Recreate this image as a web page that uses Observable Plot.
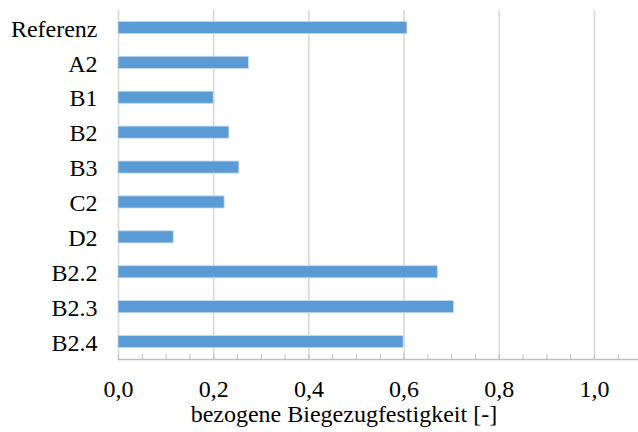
<!DOCTYPE html>
<html><head><meta charset="utf-8">
<script src="https://cdn.jsdelivr.net/npm/d3@7"></script>
<script src="https://cdn.jsdelivr.net/npm/@observablehq/plot@0.6"></script>
<style>body{margin:0;background:#fff}</style>
</head><body><div id="chart"></div>
<script>
const categories = ["Referenz","A2","B1","B2","B3","C2","D2","B2.2","B2.3","B2.4"];
const values = [0.607,0.274,0.200,0.233,0.254,0.223,0.116,0.671,0.705,0.599];
const majorTicks = [0,0.2,0.4,0.6,0.8,1.0];
const minorTicks = [0,0.05,0.1,0.15,0.2,0.25,0.3,0.35,0.4,0.45,0.5,0.55,0.6,0.65,0.7,0.75,0.8,0.85,0.9,0.95,1.0,1.05];
const xTitle = "bezogene Biegezugfestigkeit [-]";
const data = categories.map((c,i)=>({category:c, value: values[i]}));
const chart = Plot.plot({
  width:638, height:432, marginLeft:118, marginRight:1.2, marginTop:10, marginBottom:73,
  style:{fontFamily:"'Liberation Serif', 'Times New Roman', serif", fontSize:"24px", color:"#000", background:"#fff"},
  x:{domain:[0,1.09]},
  y:{domain:categories, padding:0, round:false},
  marks:[
    Plot.gridX(majorTicks,{stroke:"#d9d9d9", strokeOpacity:1, strokeWidth:1.6}),
    Plot.barX(data,{x:"value", y:"category", fill:"#5b9bd5", stroke:"#c5dbf0", strokeWidth:0.8, insetTop:11.4, insetBottom:11.4}),
    Plot.frame({anchor:"bottom", stroke:"#bfbfbf", strokeWidth:1.3}),
    Plot.axisX(minorTicks,{tickSize:5, dy:-5, tickFormat:()=>"", stroke:"#bfbfbf", label:null}),
    Plot.axisX(majorTicks,{tickSize:0, tickPadding:20, fontSize:24, tickFormat:d=>d.toFixed(1).replace(".",","), label:null}),
    Plot.axisY({tickSize:0, tickPadding:21, fontSize:24, dy:1, label:null}),
    Plot.text([xTitle],{frameAnchor:"bottom", dx:-34, dy:62, fontSize:24, text:d=>d})
  ]
});
document.getElementById("chart").appendChild(chart);
</script>
</body></html>
